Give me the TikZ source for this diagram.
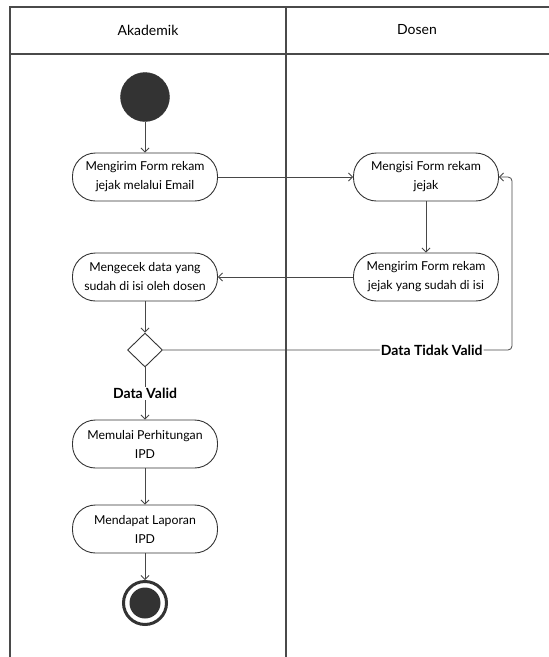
\documentclass[tikz,border=0pt]{standalone}
\usepackage{fontspec}
\setmainfont{Lato}
\usetikzlibrary{arrows.meta,shapes.geometric}
\definecolor{lane}{HTML}{4A4A4A}
\definecolor{ink}{HTML}{333333}
\tikzset{
  act/.style={draw=ink, line width=0.9pt, rounded corners=23pt, minimum width=145pt, minimum height=48pt, align=center, font=\fontsize{12.3}{19}\selectfont, text=black, inner sep=1pt},
  flow/.style={draw=ink!90, line width=0.8pt, -{Straight Barb[length=4pt,width=8pt]}},
  lanel/.style={draw=lane, line width=1.3pt},
  hdr/.style={font=\fontsize{14}{18}\selectfont, text=black},
  lbl/.style={font=\bfseries\fontsize{14}{18}\selectfont, text=black, fill=white, inner sep=1pt},
}
\begin{document}
\begin{tikzpicture}[x=1pt,y=-1pt]
\useasboundingbox (0,0) rectangle (549,657);
% swimlanes
\draw[lanel] (10,657) -- (10,7) -- (549,7);
\draw[lanel] (10,54) -- (549,54);
\draw[lanel] (286,7) -- (286,657);
\node[hdr] (hA) at (148,30) {Akademik};
\node[hdr] (hD) at (417,30) {Dosen};
% nodes
\node[circle, fill=ink, draw=ink, minimum size=49pt, inner sep=0pt] (start) at (145,97) {};
\node[act] (a1) at (145,177) {Mengirim Form rekam\\jejak melalui Email};
\node[act] (d1) at (426,177) {Mengisi Form rekam\\jejak};
\node[act] (d2) at (426,277) {Mengirim Form rekam\\jejak yang sudah di isi};
\node[act] (a2) at (145,277) {Mengecek data yang\\sudah di isi oleh dosen};
\node[diamond, draw=ink, line width=0.9pt, minimum width=35pt, minimum height=34pt, inner sep=0pt, aspect=1] (dec) at (145,350) {};
\node[act] (a3) at (145,444) {Memulai Perhitungan\\IPD};
\node[act] (a4) at (145,529) {Mendapat Laporan\\IPD};
\node[circle, draw=ink, line width=3pt, minimum size=43pt, inner sep=0pt] (end) at (145,603) {};
\node[circle, fill=ink, minimum size=31pt, inner sep=0pt] (endin) at (145,603) {};
\coordinate (c1) at (512,350);
\coordinate (c2) at (512,177);
% flows
\draw[flow] (start) -- (a1);
\draw[flow] (a1) -- (d1);
\draw[flow] (d1) -- (d2);
\draw[flow] (d2) -- (a2);
\draw[flow] (a2) -- (dec);
\draw[flow] (dec) -- node[lbl, pos=0.5] (lv) {Data Valid} (a3);
\draw[flow] (a3) -- (a4);
\draw[flow] (a4) -- (end);
\draw[flow, rounded corners=4pt] (dec.east) -- node[lbl, pos=0.77] (ltv) {Data Tidak Valid} (c1) -- (c2) -- (d1.east);
\end{tikzpicture}
\end{document}
